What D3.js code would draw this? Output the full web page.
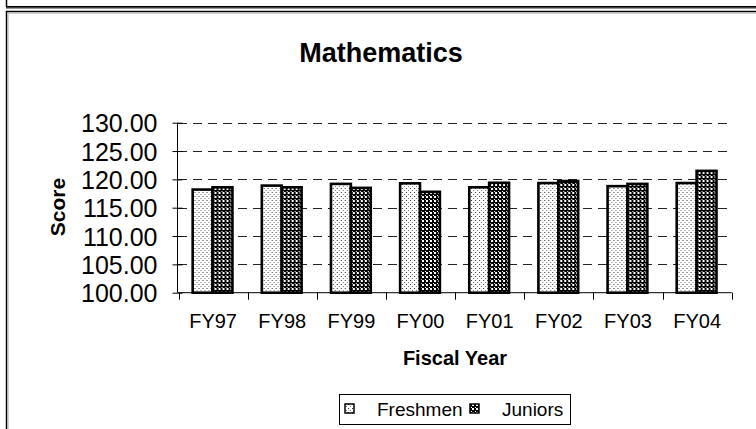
<!DOCTYPE html>
<html><head><meta charset="utf-8">
<script src="https://cdn.jsdelivr.net/npm/d3@7"></script>
<style>html,body{margin:0;padding:0;background:#fff}svg{display:block}text{font-family:"Liberation Sans",Arial,sans-serif}</style>
</head><body>
<svg id="c" width="756" height="429"></svg>
<script>
const categories = ["FY97","FY98","FY99","FY00","FY01","FY02","FY03","FY04"];
const seriesNames = ["Freshmen","Juniors"];
const freshmen = [118.2,118.9,119.2,119.3,118.6,119.35,118.8,119.35];
const juniors  = [118.6,118.6,118.5,117.8,119.4,119.7,119.2,121.5];
const yTicks = [100,105,110,115,120,125,130];
const title = "Mathematics", xTitle = "Fiscal Year", yTitle = "Score";

const svg = d3.select("#c");
const defs = svg.append("defs");
const p1 = defs.append("pattern").attr("id","pF").attr("patternUnits","userSpaceOnUse").attr("width",4).attr("height",4);
p1.append("rect").attr("width",4).attr("height",4).attr("fill","#fff");
p1.append("rect").attr("x",0).attr("y",0).attr("width",1).attr("height",1).attr("fill","#333");
p1.append("rect").attr("x",2).attr("y",2).attr("width",1).attr("height",1).attr("fill","#777");
const p2 = defs.append("pattern").attr("id","pJ").attr("patternUnits","userSpaceOnUse").attr("width",4).attr("height",4);
p2.append("rect").attr("width",4).attr("height",4).attr("fill","#000");
p2.append("rect").attr("x",0).attr("y",0).attr("width",2).attr("height",2).attr("fill","#fff");
p2.append("rect").attr("x",3).attr("y",3).attr("width",1).attr("height",1).attr("fill","#fff");
const fills = {Freshmen:"url(#pF)", Juniors:"url(#pJ)"};

// frames
svg.append("line").attr("x1",6.5).attr("x2",6.5).attr("y1",0).attr("y2",7).attr("stroke","#000").attr("stroke-width",1.5);
svg.append("line").attr("x1",6).attr("x2",756).attr("y1",6.8).attr("y2",6.8).attr("stroke","#000").attr("stroke-width",1.8);
svg.append("line").attr("x1",6).attr("x2",756).attr("y1",8.5).attr("y2",8.5).attr("stroke","#999").attr("stroke-width",1);
svg.append("rect").attr("x",6.5).attr("y",11.5).attr("width",760).attr("height",430).attr("fill","none").attr("stroke","#000").attr("stroke-width",1.5);
svg.append("rect").attr("x",8).attr("y",13).attr("width",760).attr("height",430).attr("fill","none").attr("stroke","#aaa").attr("stroke-width",1);

const y = d3.scaleLinear().domain([100,130]).range([292.7,122.7]);
const x0 = d3.scaleBand().domain(categories).range([178.5,731.7]);
const bw = x0.bandwidth();
const x1 = d3.scaleBand().domain(seriesNames).range([bw*0.205, bw*0.78]);

// gridlines
svg.append("g").selectAll("line").data(yTicks.filter(t=>t>100)).join("line")
  .attr("x1",178).attr("x2",731.7).attr("y1",d=>Math.round(y(d))+0.5).attr("y2",d=>Math.round(y(d))+0.5)
  .attr("stroke","#222").attr("stroke-width",1).attr("stroke-dasharray","9,6");

// bars
const data = categories.map((c,i)=>({c, vals:[{s:"Freshmen",v:freshmen[i]},{s:"Juniors",v:juniors[i]}]}));
svg.append("g").selectAll("g").data(data).join("g")
  .attr("transform",d=>`translate(${x0(d.c)},0)`)
  .selectAll("rect").data(d=>d.vals).join("rect")
  .attr("x",d=>x1(d.s)).attr("width",x1.bandwidth())
  .attr("y",d=>y(d.v)).attr("height",d=>y(100)-y(d.v))
  .attr("fill",d=>fills[d.s]).attr("stroke","#000").attr("stroke-width",2.6);

// y axis
const ya = svg.append("g").attr("transform","translate(177.5,0)")
  .call(d3.axisLeft(y).tickValues(yTicks).tickFormat(d3.format(".2f")).tickSize(5).tickPadding(15));
ya.selectAll(".tick line").attr("x1",5);
ya.selectAll("text").style("font-size","25px").attr("fill","#000").attr("dy","0.36em");
ya.select(".domain").attr("d",`M0,${y(100)}V${y(130)}`);

// x axis
const xa = svg.append("g").attr("transform",`translate(0,${y(100)})`)
  .call(d3.axisBottom(x0).tickSize(0).tickPadding(21));
xa.select(".domain").remove();
xa.append("line").attr("x1",178).attr("x2",731.7).attr("stroke","#000");
xa.selectAll(".tickmark").data(d3.range(categories.length+1)).join("line")
  .attr("x1",i=>Math.round(178.5+i*bw)+0.5).attr("x2",i=>Math.round(178.5+i*bw)+0.5)
  .attr("y1",0).attr("y2",7).attr("stroke","#000");
xa.selectAll("text").style("font-size","20px").attr("fill","#000");

// titles
svg.append("text").attr("x",381).attr("y",62).attr("text-anchor","middle").style("font-size","27px").style("font-weight","bold").text(title);
svg.append("text").attr("x",455).attr("y",365).attr("text-anchor","middle").style("font-size","20px").style("font-weight","bold").text(xTitle);
svg.append("text").attr("transform","translate(65,207) rotate(-90)").attr("text-anchor","middle").style("font-size","21px").style("font-weight","bold").text(yTitle);

// legend
const lg = svg.append("g");
lg.append("rect").attr("x",339.5).attr("y",394.5).attr("width",231).attr("height",30).attr("fill","#fff").attr("stroke","#000");
const items = [{s:"Freshmen",sx:345,tx:377},{s:"Juniors",sx:470,tx:502}];
items.forEach(it=>{
  lg.append("rect").attr("x",it.sx).attr("y",404).attr("width",9).attr("height",9).attr("fill",fills[it.s]).attr("stroke","#000").attr("stroke-width",1.5);
  lg.append("text").attr("x",it.tx).attr("y",416).style("font-size","19px").text(it.s);
});
</script>
</body></html>
